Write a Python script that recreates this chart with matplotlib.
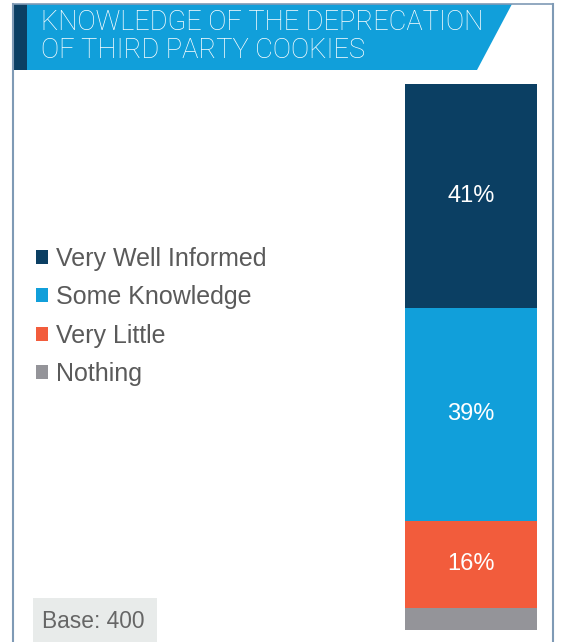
import matplotlib.pyplot as plt
from matplotlib.patches import Rectangle, Polygon
from matplotlib.lines import Line2D

categories = ['Very Well Informed', 'Some Knowledge', 'Very Little', 'Nothing']
values = [41, 39, 16, 4]
labels = ['41%', '39%', '16%', '']
colors = ['#0B3F63', '#119FDA', '#F25C3C', '#949499']

W, H = 563, 642
fig = plt.figure(figsize=(W / 100, H / 100), dpi=100)
plt.rcParams['font.family'] = ['Liberation Sans', 'DejaVu Sans']


def fx(x):
    return x / W


def fy(y):
    return 1 - y / H


# frame lines
frame = '#7F9AB5'
fig.add_artist(Line2D([fx(13), fx(13)], [fy(4), 0], color=frame, lw=1.5))
fig.add_artist(Line2D([fx(553), fx(553)], [fy(4), 0], color=frame, lw=1.5))
fig.add_artist(Line2D([fx(13), fx(553)], [fy(4), fy(4)], color=frame, lw=1.2))

# header banner
fig.add_artist(Polygon([(fx(27), fy(4)), (fx(512), fy(4)), (fx(477), fy(70)), (fx(27), fy(70))],
                       closed=True, facecolor='#119FDA', edgecolor='none'))
fig.add_artist(Rectangle((fx(13), fy(70)), fx(14), fy(4) - fy(70), facecolor='#0B3F63', edgecolor='none'))
title_font = dict(color='white', fontsize=19.6, va='center', ha='left',
                  family=['Roboto', 'DejaVu Sans'], fontweight='light')
fig.text(fx(41), fy(23), 'KNOWLEDGE OF THE DEPRECATION', **title_font)
fig.text(fx(41), fy(51), 'OF THIRD PARTY COOKIES', **title_font)

# stacked bar
ax = fig.add_axes([fx(405), 1 - 630 / H, fx(132), 546 / H])
bottom = 100
bars = []
for v, c, lab in zip(values, colors, labels):
    bottom -= v
    b = ax.bar(0, v, bottom=bottom, width=1, color=c)
    bars.append(b)
    if lab:
        ax.text(0, bottom + v / 2, lab, color='white', fontsize=17, ha='center', va='center')
ax.set_xlim(-0.5, 0.5)
ax.set_ylim(0, 100)
ax.axis('off')

# legend
fig.legend(bars, categories, loc='upper left', bbox_to_anchor=(fx(36), fy(247)),
           frameon=False, fontsize=18, labelcolor='#5A5A5A', borderpad=0,
           borderaxespad=0, handlelength=0.48, handleheight=0.48,
           handletextpad=0.32, labelspacing=0.57)

# base box
fig.add_artist(Rectangle((fx(33), 0), fx(124), fy(598), facecolor='#E8EBEA', edgecolor='none'))
fig.text(fx(42), fy(621), 'Base: 400', color='#666666', fontsize=16.4, va='center', ha='left')

fig.savefig('out.png', dpi=100)
